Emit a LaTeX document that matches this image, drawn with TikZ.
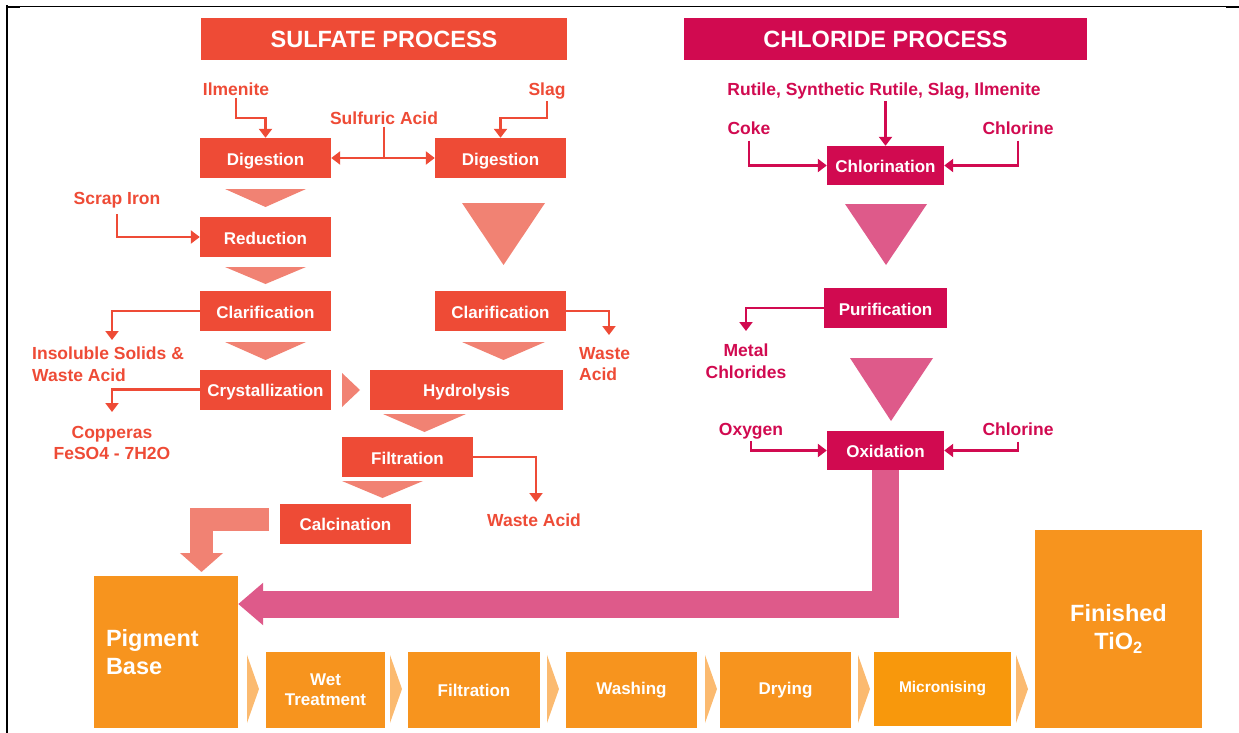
\documentclass[tikz,border=0pt]{standalone}
\usepackage{fontspec}
\setmainfont{Liberation Sans}
\usetikzlibrary{arrows.meta}
\definecolor{sred}{HTML}{EE4B36}
\definecolor{ssal}{HTML}{F18273}
\definecolor{ccrim}{HTML}{D10A50}
\definecolor{cpink}{HTML}{DE5A8A}
\definecolor{oran}{HTML}{F7941E}
\definecolor{oran2}{HTML}{F8980C}
\definecolor{lor}{HTML}{FBBA70}
\begin{document}
\begin{tikzpicture}[x=1pt,y=-1pt,
 boxf/.style={font=\bfseries\fontsize{17}{20}\selectfont},
 labf/.style={font=\bfseries\fontsize{17.5}{21.5}\selectfont},
 bigf/.style={font=\bfseries\fontsize{23.5}{28}\selectfont},
 sbox/.style={boxf, fill=sred, text=white, minimum width=131, minimum height=40, inner sep=0, text height=14pt, text depth=0pt},
 cbox/.style={boxf, fill=ccrim, text=white, minimum width=117, minimum height=39, inner sep=0, text height=14pt, text depth=0pt},
 obox/.style={boxf, fill=oran, text=white, minimum height=76, inner sep=0, align=center},
 slab/.style={labf, text=sred, inner sep=2pt, align=left},
 clab/.style={labf, text=ccrim, inner sep=2pt, align=center},
 sarr/.style={draw=sred, line width=2.2pt, -{Triangle[length=9pt,width=13pt]}},
 carr/.style={draw=ccrim, line width=2.2pt, -{Triangle[length=9pt,width=13pt]}},
 stri/.style={fill=ssal},
 ctri/.style={fill=cpink},
 chev/.style={fill=lor},
 ttl/.style={bigf, text=white, minimum height=42, inner sep=0}
]
\useasboundingbox (0,0) rectangle (1239,733);
% frame
\draw[line width=2.2pt] (7,5.5) -- (7,733);
\draw[line width=1.2pt] (6,6.5) -- (1239,6.5);
\draw[line width=2.4pt] (6,7) -- (20,7);
\draw[line width=2.4pt] (1226,7) -- (1239,7);

% titles
\node[ttl, fill=sred, minimum width=366] (st) at (384,39) {SULFATE PROCESS};
\node[ttl, fill=ccrim, minimum width=403] (ct) at (885.5,39) {CHLORIDE PROCESS};

% sulfate boxes
\node[sbox] (dig1) at (265.5,158) {Digestion};
\node[sbox] (dig2) at (500.5,158) {Digestion};
\node[sbox] (red1) at (265.5,237) {Reduction};
\node[sbox] (cla1) at (265.5,311) {Clarification};
\node[sbox] (cla2) at (500.5,311) {Clarification};
\node[sbox] (cry) at (265.5,389.5) {Crystallization};
\node[sbox, minimum width=193] (hyd) at (466.5,389.5) {Hydrolysis};
\node[sbox] (fil) at (407.5,457) {Filtration};
\node[sbox] (cal) at (345.5,523.5) {Calcination};

% sulfate labels
\node[slab] (ilm) at (236,89) {Ilmenite};
\node[slab] (slag) at (547,91) {Slag};
\node[slab] (sulf) at (384,118) {Sulfuric Acid};
\node[slab] (scrap) at (117,200) {Scrap Iron};
\node[slab, anchor=west] (insol) at (30,364) {Insoluble Solids \&\\Waste Acid};
\node[slab, align=center] (copp) at (112,443) {Copperas\\FeSO4 - 7H2O};
\node[slab, anchor=west] (wa1) at (577,364) {Waste\\Acid};
\node[slab] (wa2) at (534,520) {Waste Acid};

% sulfate connectors
\draw[sarr] (ilm.south) |- ([yshift=20pt]dig1.north) -- (dig1.north);
\draw[sarr] (slag.south) |- ([yshift=20pt]dig2.north) -- (dig2.north);
\draw[draw=sred, line width=2.2pt] (sulf.south) -- (sulf.south |- dig1.east);
\draw[sarr, {Triangle[length=9pt,width=13pt]}-{Triangle[length=9pt,width=13pt]}] (dig1.east) -- (dig2.west);
\draw[sarr] ([yshift=-4pt]scrap.south) |- (red1.west);
\coordinate (insA) at (112,340);
\draw[sarr] (cla1.west) -| (insA);
\coordinate (copA) at (112,412);
\draw[sarr] (cry.west) -| (copA);
\coordinate (wa1A) at (609,335);
\draw[sarr] (cla2.east) -| (wa1A);
\coordinate (wa2A) at (536,502);
\draw[sarr] (fil.east) -| (wa2A);

% sulfate flow triangles
\fill[stri] (225,189) -- (306,189) -- (265.5,207) -- cycle;
\fill[stri] (462,203) -- (545,203) -- (503.5,265) -- cycle;
\fill[stri] (225,267) -- (306,267) -- (265.5,284) -- cycle;
\fill[stri] (225,342) -- (306,342) -- (265.5,360) -- cycle;
\fill[stri] (462,342) -- (545,342) -- (503.5,360) -- cycle;
\fill[stri] (342,373) -- (360,390) -- (342,407) -- cycle;
\fill[stri] (383,414) -- (466,414) -- (424.5,432) -- cycle;
\fill[stri] (342,481) -- (423,481) -- (382.5,498) -- cycle;

% chloride boxes
\node[cbox] (chl) at (885.5,165.5) {Chlorination};
\node[cbox, minimum width=123, minimum height=40] (pur) at (885.5,308) {Purification};
\node[cbox] (oxi) at (885.5,450.5) {Oxidation};

% chloride labels
\node[clab] (rut) at (884,91) {Rutile, Synthetic Rutile, Slag, Ilmenite};
\node[clab] (coke) at (749,128) {Coke};
\node[clab] (chlor1) at (1018,128) {Chlorine};
\node[clab] (metal) at (746,361) {Metal\\Chlorides};
\node[clab] (oxy) at (751,431) {Oxygen};
\node[clab] (chlor2) at (1018,429) {Chlorine};

% chloride connectors
\draw[carr] (rut.south -| chl.north) -- (chl.north);
\draw[carr] ([yshift=-4pt]coke.south) |- (chl.west);
\draw[carr] ([yshift=-4pt]chlor1.south) |- (chl.east);
\coordinate (metA) at (746,331);
\draw[carr] (pur.west) -| (metA);
\draw[carr] (oxy.south) |- (oxi.west);
\draw[carr] ([yshift=-4pt]chlor2.south) |- (oxi.east);

% chloride flow triangles
\fill[ctri] (845,204) -- (927,204) -- (886,265) -- cycle;
\fill[ctri] (850,358) -- (933,358) -- (891,421) -- cycle;

% bottom finishing line
\node[obox, minimum width=144, minimum height=152, text width=120, align=left, bigf] (pig) at (166,652) {Pigment\\Base};
\node[obox, minimum width=119] (wet) at (325.5,690) {Wet\\Treatment};
\node[obox, minimum width=132] (filt2) at (474,690) {Filtration};
\node[obox, minimum width=131] (wash) at (631.5,690) {Washing};
\node[obox, minimum width=131] (dry) at (785.5,690) {Drying};
\node[obox, fill=oran2, minimum width=137, minimum height=74, font=\bfseries\fontsize{15.5}{19}\selectfont] (mic) at (942.5,689) {Micronising};
\node[obox, minimum width=167, minimum height=198, bigf] (fin) at (1118.5,629) {Finished\\TiO\textsubscript{2}};

\foreach \cx in {247,390,547,705,858,1016}
  \fill[chev] (\cx,655) -- (\cx+12,689) -- (\cx,723) -- cycle;

% big connectors
\draw[cpink, line width=27pt, -{Triangle[length=25pt,width=41pt]}] (oxi.south) |- ([yshift=48pt]pig.east);
\coordinate (calOut) at (269,519);
\coordinate (pigIn) at (201.5,572);
\draw[ssal, line width=23pt, -{Triangle[length=19pt,width=42pt]}] (calOut) -| (pigIn);
\end{tikzpicture}
\end{document}
